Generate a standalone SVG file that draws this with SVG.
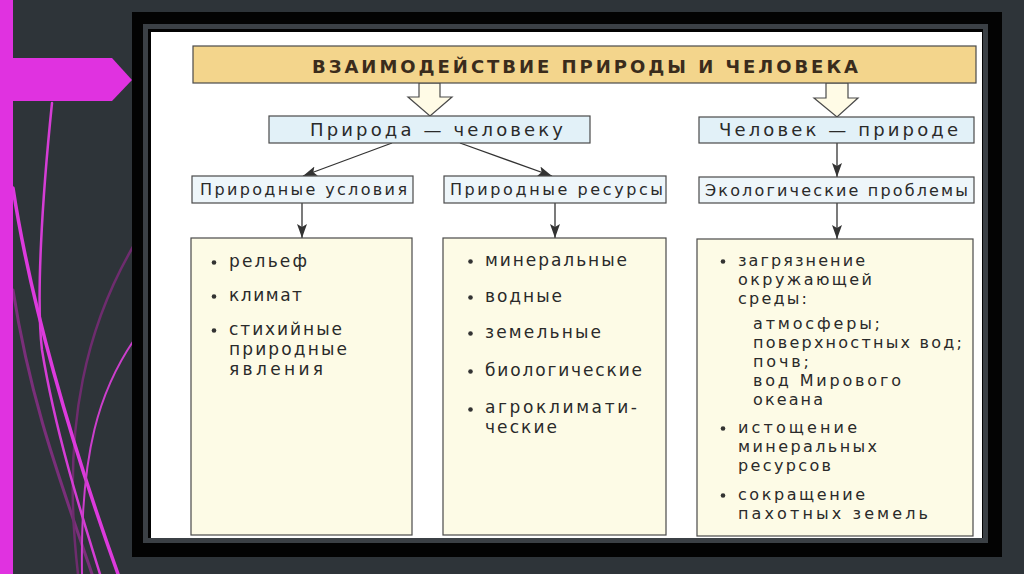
<svg xmlns="http://www.w3.org/2000/svg" width="1024" height="574" viewBox="0 0 1024 574">
<style>
text{font-family:"DejaVu Sans","Liberation Sans",Arial,sans-serif;fill:#2a2a2a}
.t{font-size:18px;font-weight:bold;fill:#3a2c1c}
.l1{font-size:18px}
.l2{font-size:16px}
.b{font-size:17px}
.b3{font-size:16px}
.box{stroke:#4a4a4a;stroke-width:1.2}
.conn{stroke:#333;stroke-width:1.3;fill:none}
.hollow{fill:#FFFBE6;stroke:#4a4a4a;stroke-width:1.2}
.dot{fill:#333}
.deco{fill:none;stroke-linecap:round}
</style>
<defs>
<marker id="ah" markerUnits="userSpaceOnUse" markerWidth="16" markerHeight="12" refX="14" refY="5" orient="auto">
<path d="M0,0 L14,5 L0,10 L3,5 z" fill="#333"/>
</marker>
</defs>
<rect x="0" y="0" width="1024" height="574" fill="#2E3439"/>
<g id="decoration">
<path class="deco" d="M13 290 C30 400 60 480 92 574" stroke="#7a2f7a" stroke-width="3"/>
<path class="deco" d="M134 245 C90 320 60 420 78 574" stroke="#6e2c6e" stroke-width="2.5"/>
<path class="deco" d="M52 103 C42 200 36 300 42 350 C55 430 80 510 100 574" stroke="#D53DD5" stroke-width="2.5"/>
<path class="deco" d="M13 188 C30 300 70 440 118 574" stroke="#DD3ADD" stroke-width="3.5"/>
<path class="deco" d="M134 340 C100 390 80 450 82 574" stroke="#CC3ECC" stroke-width="2"/>
<rect x="0" y="0" width="13" height="574" fill="#E032E0"/>
<polygon points="13,58 112,58 132,80 112,101 13,101" fill="#E032E0"/>
</g>
<g id="frame">
<rect x="132" y="12" width="870" height="545" fill="#030303"/>
<rect x="145.5" y="26.5" width="840" height="514" fill="none" stroke="#3b4045" stroke-width="5"/>
<rect x="151" y="32" width="831" height="506" fill="#FFFFFF"/>
</g>
<g id="connectors">
<polygon class="hollow" points="419,83 419,97 408,97 430,116 452,97 440,97 440,83"/>
<polygon class="hollow" points="826,83 826,98 814,98 837,117 858,98 848,98 848,83"/>
<line class="conn" x1="392" y1="143" x2="303" y2="176" marker-end="url(#ah)"/>
<line class="conn" x1="460" y1="143" x2="552" y2="176" marker-end="url(#ah)"/>
<line class="conn" x1="302" y1="203" x2="302" y2="238" marker-end="url(#ah)"/>
<line class="conn" x1="555" y1="203" x2="555" y2="238" marker-end="url(#ah)"/>
<line class="conn" x1="837" y1="143" x2="837" y2="177" marker-end="url(#ah)"/>
<line class="conn" x1="837" y1="203" x2="837" y2="239" marker-end="url(#ah)"/>
</g>
<g id="title">
<rect class="box" x="193" y="46" width="783" height="37" fill="#F3D58C"/>
<text class="t" x="312" y="73" textLength="546" lengthAdjust="spacing">ВЗАИМОДЕЙСТВИЕ ПРИРОДЫ И ЧЕЛОВЕКА</text>
</g>
<g id="priroda-cheloveku">
<rect class="box" x="269" y="116" width="321" height="27" fill="#E2F1F8"/>
<text class="l1" x="310" y="135.5" textLength="253" lengthAdjust="spacing">Природа — человеку</text>
</g>
<g id="chelovek-prirode">
<rect class="box" x="699" y="117" width="275" height="26" fill="#E2F1F8"/>
<text class="l1" x="719" y="136" textLength="239" lengthAdjust="spacing">Человек — природе</text>
</g>
<g id="prirodnye-usloviya">
<rect class="box" x="192" y="176" width="221" height="27" fill="#EEF6FA"/>
<text class="l2" x="200" y="195" textLength="207" lengthAdjust="spacing">Природные условия</text>
</g>
<g id="prirodnye-resursy">
<rect class="box" x="444" y="176" width="222" height="27" fill="#EEF6FA"/>
<text class="l2" x="450" y="195" textLength="213" lengthAdjust="spacing">Природные ресурсы</text>
</g>
<g id="ekologicheskie-problemy">
<rect class="box" x="699" y="177" width="275" height="26" fill="#EEF6FA"/>
<text class="l2" x="705" y="196" textLength="263" lengthAdjust="spacing">Экологические проблемы</text>
</g>
<g id="usloviya-list">
<rect class="box" x="191" y="238" width="221" height="297" fill="#FDFBE6"/>
<circle class="dot" cx="214" cy="262.5" r="2.3"/>
<circle class="dot" cx="214" cy="296.5" r="2.3"/>
<circle class="dot" cx="214" cy="330.5" r="2.3"/>
<text class="b" x="229" y="267" textLength="78" lengthAdjust="spacing">рельеф</text>
<text class="b" x="229" y="301" textLength="73" lengthAdjust="spacing">климат</text>
<text class="b" x="229" y="335" textLength="113" lengthAdjust="spacing">стихийные</text>
<text class="b" x="229" y="355" textLength="118" lengthAdjust="spacing">природные</text>
<text class="b" x="229" y="375" textLength="94" lengthAdjust="spacing">явления</text>
</g>
<g id="resursy-list">
<rect class="box" x="443" y="238" width="223" height="297" fill="#FDFBE6"/>
<circle class="dot" cx="470.5" cy="261.5" r="2.3"/>
<circle class="dot" cx="470.5" cy="297.5" r="2.3"/>
<circle class="dot" cx="470.5" cy="333.5" r="2.3"/>
<circle class="dot" cx="470.5" cy="371.5" r="2.3"/>
<circle class="dot" cx="470.5" cy="409.5" r="2.3"/>
<text class="b" x="485" y="266" textLength="142" lengthAdjust="spacing">минеральные</text>
<text class="b" x="485" y="302" textLength="77" lengthAdjust="spacing">водные</text>
<text class="b" x="485" y="338" textLength="116" lengthAdjust="spacing">земельные</text>
<text class="b" x="485" y="376" textLength="157" lengthAdjust="spacing">биологические</text>
<text class="b" x="485" y="413" textLength="152" lengthAdjust="spacing">агроклимати-</text>
<text class="b" x="485" y="433" textLength="72" lengthAdjust="spacing">ческие</text>
</g>
<g id="problemy-list">
<rect class="box" x="697" y="239" width="276" height="297" fill="#FDFBE6"/>
<circle class="dot" cx="723" cy="261.5" r="2.3"/>
<circle class="dot" cx="723" cy="428.5" r="2.3"/>
<circle class="dot" cx="723" cy="495.5" r="2.3"/>
<text class="b3" x="738" y="266" textLength="127" lengthAdjust="spacing">загрязнение</text>
<text class="b3" x="738" y="285" textLength="134" lengthAdjust="spacing">окружающей</text>
<text class="b3" x="738" y="304" textLength="69" lengthAdjust="spacing">среды:</text>
<text class="b3" x="753" y="329" textLength="127" lengthAdjust="spacing">атмосферы;</text>
<text class="b3" x="753" y="348" textLength="209" lengthAdjust="spacing">поверхностных вод;</text>
<text class="b3" x="753" y="367" textLength="56" lengthAdjust="spacing">почв;</text>
<text class="b3" x="753" y="386" textLength="148" lengthAdjust="spacing">вод Мирового</text>
<text class="b3" x="753" y="405" textLength="70" lengthAdjust="spacing">океана</text>
<text class="b3" x="738" y="433" textLength="119" lengthAdjust="spacing">истощение</text>
<text class="b3" x="738" y="452" textLength="139" lengthAdjust="spacing">минеральных</text>
<text class="b3" x="738" y="471" textLength="93" lengthAdjust="spacing">ресурсов</text>
<text class="b3" x="738" y="500" textLength="127" lengthAdjust="spacing">сокращение</text>
<text class="b3" x="738" y="519" textLength="190" lengthAdjust="spacing">пахотных земель</text>
</g>
</svg>
